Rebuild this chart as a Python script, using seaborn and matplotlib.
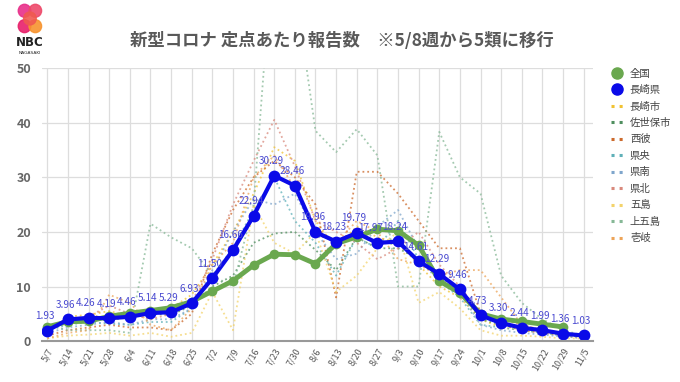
import numpy as np
import matplotlib
matplotlib.use("Agg")
import matplotlib.pyplot as plt
from matplotlib.lines import Line2D
from matplotlib.patches import Circle
import seaborn as sns

# week labels (x axis)
weeks = ["5/7", "5/14", "5/21", "5/28", "6/4", "6/11", "6/18", "6/25", "7/2", "7/9",
         "7/16", "7/23", "7/30", "8/6", "8/13", "8/20", "8/27", "9/3", "9/10", "9/17",
         "9/24", "10/1", "10/8", "10/15", "10/22", "10/29", "11/5"]

# 長崎県 (labelled values)
nagasaki = [1.93, 3.96, 4.26, 4.19, 4.46, 5.14, 5.29, 6.93, 11.50, 16.66, 22.94, 30.29,
            28.46, 19.96, 18.23, 19.79, 17.97, 18.24, 14.61, 12.29, 9.46, 4.73, 3.30,
            2.44, 1.99, 1.36, 1.03]

# 全国 (no value yet for the last week)
zenkoku = [2.63, 3.56, 3.63, 4.55, 5.11, 5.60, 6.13, 7.24, 9.14, 11.04, 13.91, 15.91,
           15.81, 14.16, 17.84, 19.07, 20.50, 20.19, 17.54, 11.01, 8.83, 5.01, 4.03,
           3.60, 3.10, 2.60, np.nan]

# regional series (dotted lines)
nagasaki_city = [1.5, 4.5, 4.8, 5.5, 4.5, 5.8, 6.0, 8.5, 14.0, 20.0, 27.0, 35.5, 33.0,
                 22.0, 17.0, 21.0, 19.0, 18.0, 14.0, 10.0, 8.0, 4.0, 2.5, 2.0, 1.6, 1.2, 0.9]
sasebo = [2.0, 3.5, 4.0, 3.8, 4.5, 5.0, 4.8, 6.5, 10.0, 12.0, 18.0, 19.7, 20.0, 16.7,
          13.0, 19.0, 17.0, 17.0, 15.0, 12.0, 9.0, 4.0, 3.0, 2.5, 2.0, 1.5, 1.0]
seihi = [1.0, 2.0, 2.5, 3.0, 2.5, 2.5, 2.0, 5.0, 16.0, 24.0, 30.0, 33.0, 30.0, 25.0,
         8.0, 31.0, 31.0, 27.0, 22.0, 17.0, 17.0, 5.0, 3.0, 2.0, 1.5, 1.0, 0.5]
kenou = [2.0, 3.0, 3.5, 3.2, 3.0, 3.5, 3.5, 6.0, 12.0, 17.0, 24.0, 30.0, 22.0, 18.0,
         12.0, 19.0, 17.0, 22.0, 15.0, 11.0, 8.0, 3.0, 2.5, 2.0, 1.5, 1.0, 0.8]
kennan = [1.5, 2.5, 3.0, 3.5, 3.0, 4.0, 4.0, 6.0, 13.0, 20.0, 26.0, 25.0, 27.0, 20.0,
          15.0, 16.0, 21.0, 24.0, 17.0, 12.0, 9.0, 3.0, 2.0, 1.5, 1.2, 0.8, 0.6]
kenhoku = [2.5, 4.0, 4.5, 6.5, 5.0, 4.0, 5.0, 7.0, 15.0, 25.0, 33.0, 40.5, 32.0, 22.0,
           20.0, 18.0, 15.0, 17.0, 20.0, 14.0, 10.0, 5.0, 4.0, 3.0, 2.0, 1.5, 1.0]
goto = [0.5, 1.0, 1.2, 1.5, 1.0, 1.5, 0.8, 1.5, 9.0, 2.0, 25.0, 18.0, 16.0, 20.0, 9.0,
        12.0, 17.0, 20.0, 7.0, 9.0, 6.0, 2.0, 1.0, 1.0, 0.8, 0.5, 0.5]
kamigoto = [3.0, 2.0, 2.0, 2.0, 1.5, 21.5, 19.0, 17.0, 12.0, 10.0, 25.0, 75.0, 65.0, 38.5,
            34.6, 38.8, 34.0, 10.0, 10.0, 38.3, 30.0, 27.0, 12.0, 7.0, 4.0, 2.0, 1.0]
iki = [0.5, 1.5, 2.0, 8.5, 7.0, 3.0, 2.0, 6.0, 14.0, 18.0, 30.0, 34.0, 28.0, 20.0, 18.0,
       22.0, 20.0, 15.0, 14.0, 12.0, 13.0, 13.0, 8.0, 3.0, 2.0, 1.2, 1.0]

region_names = ["長崎市", "佐世保市", "西彼", "県央", "県南", "県北", "五島", "上五島", "壱岐"]
region_values = [nagasaki_city, sasebo, seihi, kenou, kennan, kenhoku, goto, kamigoto, iki]
region_colors = ["#f1c232", "#4f8f5f", "#cc6a2c", "#5fb0b8", "#7fa6cc", "#d9897c",
                 "#f3d36b", "#86b896", "#eda458"]

green = "#6aa84f"
blue = "#0a0ae8"

sns.set_style("white")
plt.rcParams['font.family'] = ['Noto Sans CJK JP', 'DejaVu Sans']

fig = plt.figure(figsize=(6.8, 3.82), dpi=100)
ax = fig.add_axes([0.062, 0.107, 0.81, 0.715])
x = np.arange(len(weeks))

# regional dotted lines
for vals, col in zip(region_values, region_colors):
    sns.lineplot(x=x, y=vals, ax=ax, color=col, linestyle=':', linewidth=1.3,
                 alpha=0.75, legend=False)

# national
sns.lineplot(x=x, y=zenkoku, ax=ax, color=green, linewidth=3.5, marker='o',
             markersize=7, markeredgewidth=0, legend=False)

# Nagasaki prefecture
sns.lineplot(x=x, y=nagasaki, ax=ax, color=blue, linewidth=3, marker='o',
             markersize=8.5, markeredgewidth=0, legend=False)

for i, v in enumerate(nagasaki):
    dx = -5 if i == 16 else -2   # 17.97 sits right next to 18.24
    ax.annotate(f"{v:.2f}", (i, v), xytext=(dx, 7), textcoords='offset points',
                ha='center', va='bottom', fontsize=7.2, color='#4a4ad0')

ax.set_xlim(-0.25, 26.45)
ax.set_ylim(0, 50)
ax.set_yticks([0, 10, 20, 30, 40, 50])
ax.set_xticks(x)
ax.set_xticklabels(weeks, rotation=60, ha='right', rotation_mode='anchor',
                   fontsize=6.5, color='#555555')
ax.tick_params(axis='y', labelsize=9, labelcolor='#666666', length=0, pad=8)
ax.tick_params(axis='x', length=0, pad=4)
for lab in ax.get_yticklabels():
    lab.set_fontweight('bold')
ax.grid(True, color='#dddddd', linewidth=0.9)
for s in ['top', 'right', 'left']:
    ax.spines[s].set_visible(False)
ax.spines['bottom'].set_color('#999999')
ax.spines['bottom'].set_linewidth(1.5)
ax.set_xlabel('')
ax.set_ylabel('')

# title
fig.text(0.503, 0.893, "新型コロナ 定点あたり報告数　※5/8週から5類に移行",
         ha='center', va='center', fontsize=12.5, fontweight='bold', color='#595959')

# legend
handles = [Line2D([], [], color=green, marker='o', linestyle='', markersize=8),
           Line2D([], [], color=blue, marker='o', linestyle='', markersize=8)]
for col in region_colors:
    handles.append(Line2D([], [], color=col, linestyle=':', linewidth=2.2))
labels = ["全国", "長崎県"] + region_names
fig.legend(handles, labels, loc='upper left', bbox_to_anchor=(0.885, 0.845),
           frameon=False, fontsize=7.5, handlelength=1.1, handletextpad=0.7,
           labelspacing=0.62, labelcolor='#444444')

# NBC logo
logo = fig.add_axes([0.022, 0.9, 0.044, 0.092])
logo.set_xlim(0, 10)
logo.set_ylim(0, 11.4)
logo.axis('off')
for (cx, cy, c) in [(3.2, 8.9, '#e8308a'), (6.8, 8.9, '#ee4a6a'),
                    (3.2, 3.9, '#e8206a'), (6.8, 3.9, '#f7942e'),
                    (5.0, 6.4, '#f05a50')]:
    logo.add_patch(Circle((cx, cy), 2.1, color=c, alpha=0.9))
fig.text(0.044, 0.888, "NBC", ha='center', va='center', fontsize=8.5,
         fontweight='bold', color='#222222', family='DejaVu Sans')
fig.text(0.044, 0.862, "NAGASAKI", ha='center', va='center', fontsize=3.2,
         color='#222222', family='DejaVu Sans')

fig.savefig("out.png", dpi=100)
